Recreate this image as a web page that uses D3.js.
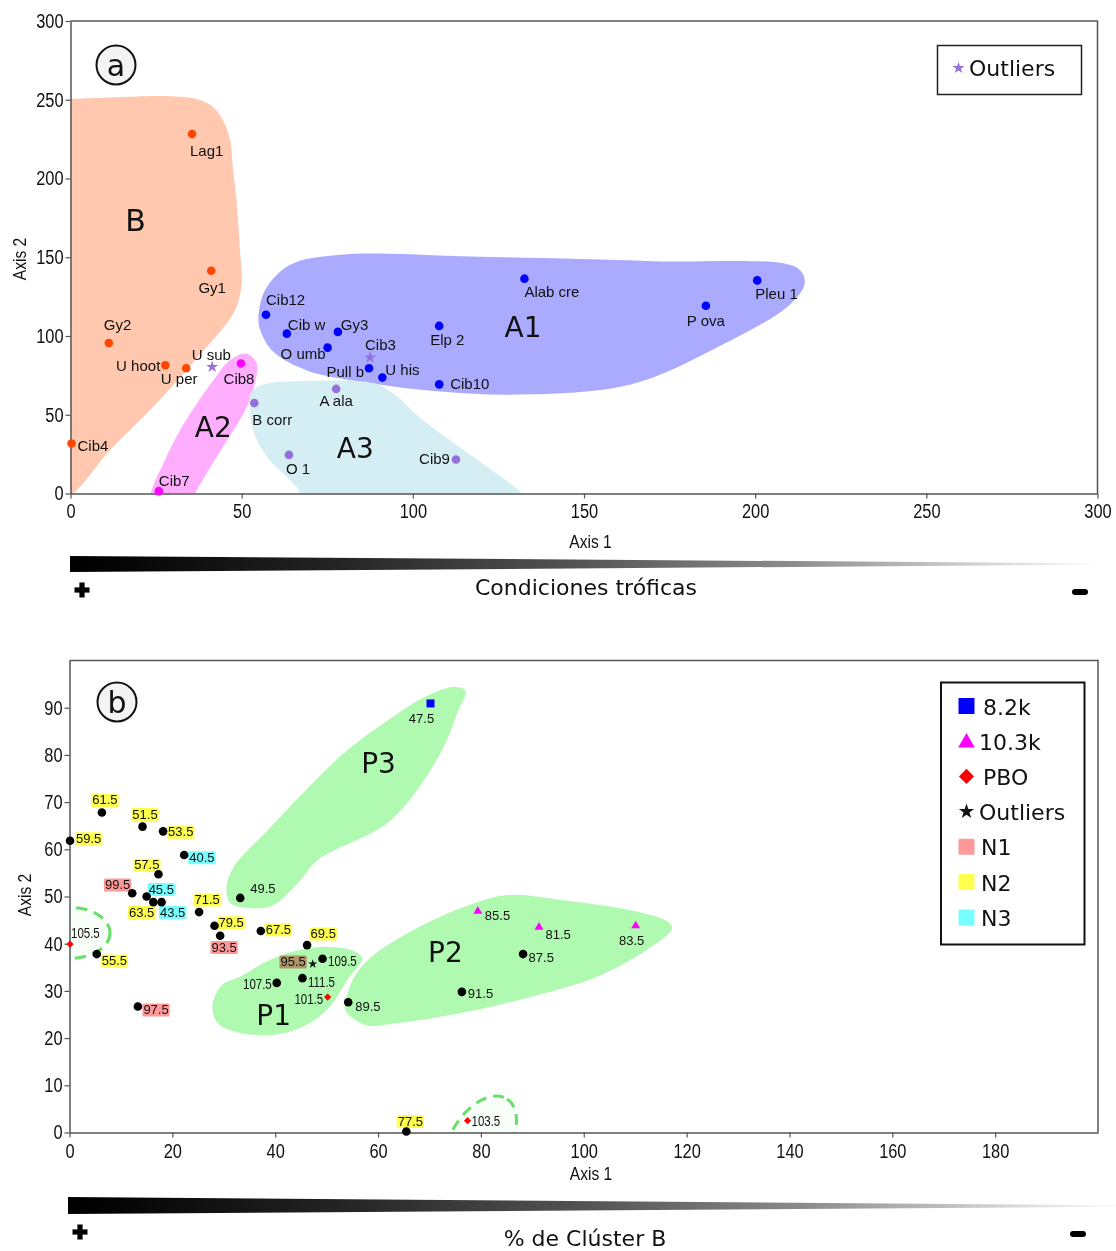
<!DOCTYPE html>
<html>
<head>
<meta charset="utf-8">
<script src="https://cdn.jsdelivr.net/npm/d3@7"></script>
<style>
  body { margin: 0; background: #fff; }
  svg { display: block; }
</style>
</head>
<body>
<svg id="chart" width="1116" height="1251"></svg>
<script>
// ---------------- Panel (a): species ordination ----------------
const speciesNames   = ['Lag1','Gy1','Gy2','U hoot','U per','U sub','Cib4','Cib8','Cib7','B corr','O 1','A ala','Cib9',
                        'Cib12','Cib w','Gy3','O umb','Cib3','Pull b','U his','Elp 2','Cib10','Alab cre','P ova','Pleu 1'];
const speciesAxis1   = [35.5,41.1,11.2,27.7,33.8,41.4,0.3,49.8,25.8,53.7,63.8,77.6,112.6,
                        57.1,63.2,78.1,75.1,87.5,87.2,91.1,107.7,107.7,132.6,185.6,200.6];
const speciesAxis2   = [228.3,141.4,95.6,81.4,79.5,80.4,31.7,82.5,1.5,57.5,24.5,66.4,21.6,
                        113.5,101.5,102.6,92.6,86.4,79.5,73.6,106.4,69.3,136.4,119.2,135.3];
const speciesCluster = ['B','B','B','B','B','outlier','B','A2','A2','A3','A3','A3','A3',
                        'A1','A1','A1','A1','outlier','A1','A1','A1','A1','A1','A1','A1'];

const clusterNames      = ['B','A1','A2','A3'];
const clusterLabelAxis1 = [19.0,132.2,41.7,83.2];
const clusterLabelAxis2 = [173.8,105.9,42.5,29.2];

// cluster envelopes, in axis units
const hullB  = [[-25,251],[-5,250.4],[10,251.3],[25.1,252.4],[33.9,251.6],[37.8,249.9],[41.6,245.6],[44.5,237.2],[46.6,224.5],
                [47.4,207.5],[48.5,186.3],[49.2,165.4],[49.5,154.6],[50.0,133.4],[48.5,118.6],[45.6,108.0],[39.8,93.1],
                [33.9,78.3],[23.2,52.9],[11.5,27.5],[1.8,2.1],[-4,-8],[-25,-10],[-25,120]];
const hullA1 = [[54.9,112.3],[56.9,129.4],[64.2,145.2],[78.8,151.6],[119.6,150.3],[170,147.5],[212.2,143.3],[214.5,133.8],
                [210.1,119.9],[187.6,91.3],[163.4,69.1],[131.3,62.8],[108.0,64.7],[88.4,69.8],[69.2,78.0],[59.2,90.1],[55.4,104.0]];
const hullA2 = [[51.5,88.8],[54.4,82.6],[53.9,70.1],[51.5,55.0],[47.6,40.2],[42.7,23.3],[36.9,2.1],[33.5,-12],[22.5,-12],
                [23.7,2.1],[27.1,19.1],[32.0,40.2],[36.9,57.2],[41.8,72.0],[46.6,84.7]];
const hullA3 = [[54.0,67.0],[58.3,70.1],[69.2,71.4],[88.4,70.1],[94.9,62.5],[102.2,47.9],[117.7,23.1],[132.3,-0.5],
                [137,-12],[67,-12],[67.1,0.2],[57.4,23.1],[53.3,40.2],[52.4,54.8],[52.4,62.5]];
const hullsA = [['B',hullB],['A1',hullA1],['A2',hullA2],['A3',hullA3]];

const ticksA1 = [0,50,100,150,200,250,300];
const ticksA2 = [0,50,100,150,200,250,300];

// ---------------- Panel (b): sample ordination ----------------
const sampleLabels = ['47.5','49.5','61.5','59.5','51.5','53.5','40.5','57.5','99.5','45.5','63.5','43.5','71.5','79.5',
                      '93.5','67.5','69.5','105.5','55.5','97.5','95.5','109.5','107.5','111.5','101.5','89.5','85.5',
                      '81.5','83.5','87.5','91.5','77.5','103.5'];
const sampleAxis1  = [70.2,33.2,6.3,0.1,14.2,18.2,22.3,17.3,12.2,15.0,16.3,17.9,25.2,28.2,
                      29.3,37.2,46.2,0.1,5.3,13.3,47.3,49.2,40.3,45.3,50.2,54.2,79.4,
                      91.3,110.1,88.2,76.3,65.5,77.4];
const sampleAxis2  = [90.9,49.7,67.8,61.8,64.8,63.8,58.8,54.7,50.7,50.0,48.8,48.8,46.7,43.8,
                      41.7,42.7,39.7,39.9,37.8,26.7,35.7,36.8,31.7,32.7,28.7,27.6,46.9,
                      43.5,43.8,37.8,29.8,0.2,2.5];
const sampleEvent  = ['8.2k','','','','','','','','','','','','','',
                      '','','','PBO','','','Outliers','','','','PBO','','10.3k',
                      '10.3k','10.3k','','','','PBO'];
const sampleLevel  = ['','','N2','N2','N2','N2','N3','N2','N1','N3','N2','N3','N2','N2',
                      'N1','N2','N2','','N2','N1','N1','','','','','','',
                      '','','','','N2',''];

const groupNames      = ['P1','P2','P3'];
const groupLabelAxis1 = [39.7,73.1,60.1];
const groupLabelAxis2 = [24.9,38.2,78.2];

const hullP1 = [[27.8,27.0],[29.7,31.3],[33.2,33.0],[38.1,36.1],[43.0,38.2],[48.8,39.3],[54.6,38.7],[56.9,37.0],
                [54.0,32.3],[50.1,26.0],[44.9,22.2],[39.7,20.7],[33.2,21.1],[28.8,23.2]];
const hullP2 = [[85.1,50.3],[96.0,49.2],[109.0,47.1],[115.8,45.0],[117.2,43.3],[112.3,38.7],[102.6,33.0],[89.6,28.7],
                [76.6,25.4],[63.8,23.2],[57.5,22.8],[53.6,26.0],[54.0,29.2],[55.6,33.4],[58.9,37.4],[66.9,42.9],[76.6,47.7]];
const hullP3 = [[74.6,94.4],[77.0,93.6],[75.6,89.4],[72.1,80.3],[62.4,66.1],[48.2,57.7],[44.9,53.5],[39.7,48.2],
                [35.2,47.5],[31.3,48.6],[30.5,51.8],[31.9,56.2],[38.5,64.0],[45.5,72.0],[53.5,80.5],[61.5,87.0],[68.8,92.1]];
const hullsB = [hullP1,hullP2,hullP3];

// dashed envelopes around isolated samples (centre in axis units)
const looseGroupAxis1 = [0.1,79.9];
const looseGroupAxis2 = [42.3,-1.6];

const ticksB1 = [0,20,40,60,80,100,120,140,160,180];
const ticksB2 = [0,10,20,30,40,50,60,70,80,90];

const legendEvents = ['8.2k','10.3k','PBO','Outliers'];
const legendLevels = ['N1','N2','N3'];

// ---------------- styles ----------------
const FONT_LABEL  = '"Liberation Sans",Arial,sans-serif';
const FONT_DV     = '"DejaVu Sans",sans-serif';

const hullFill   = {B:'#ffc8af', A1:'#aaaaff', A2:'#ffaeff', A3:'#d5eef3'};
const dotColor   = {B:'#ff4500', A1:'#0000ff', A2:'#ff00ff', A3:'#9370db', outlier:'#9370db'};
const levelColor = {N1:'#ff9999', N2:'#ffff4d', N3:'#77ffff'};
const eventColor = {'8.2k':'#0000ff','10.3k':'#ff00ff','PBO':'#ff0000','Outliers':'#111'};

const labelPosA = {
  'Lag1':[-2,22,'start'],'Gy1':[1,22,'middle'],'Gy2':[-5,-13,'start'],'U hoot':[-5,6,'end'],
  'U per':[-7,16,'middle'],'U sub':[-1,-7,'middle'],'Cib4':[6,7,'start'],'Cib8':[-2,20,'middle'],
  'Cib7':[0,-5,'start'],'B corr':[-2,22,'start'],'O 1':[-3,19,'start'],'A ala':[0,17,'middle'],
  'Cib9':[-6,5,'end'],'Cib12':[0,-10,'start'],'Cib w':[1,-4,'start'],'Gy3':[3,-2,'start'],
  'O umb':[-2,11,'end'],'Cib3':[-5,-7,'start'],'Pull b':[-5,9,'end'],'U his':[3,-3,'start'],
  'Elp 2':[-9,19,'start'],'Cib10':[11,5,'start'],'Alab cre':[0,18,'start'],'P ova':[0,20,'middle'],
  'Pleu 1':[-2,19,'start']
};
const labelPosB = {
  '47.5':[-9,20,'middle'],'49.5':[10,-5,'start'],'61.5':[3,-8,'middle'],'59.5':[6,2,'start'],
  '51.5':[2.5,-8,'middle'],'53.5':[5,5,'start'],'40.5':[5,7,'start'],'57.5':[1,-5,'end'],
  '99.5':[-2,-4,'end'],'45.5':[2,-3,'start'],'63.5':[1,14.5,'end'],'43.5':[-1.5,14.5,'start'],
  '71.5':[8,-8,'middle'],'79.5':[4,1,'start'],'93.5':[4,16,'middle'],'67.5':[5,3,'start'],
  '69.5':[3.5,-7,'start'],'105.5':[1,-6,'start'],'55.5':[5,11,'start'],'97.5':[5.5,7.5,'start'],
  '95.5':[-7,2,'end'],'109.5':[5.5,7.5,'start'],'107.5':[-5,6.5,'end'],'111.5':[5.5,8.5,'start'],
  '101.5':[-4.5,6.5,'end'],'89.5':[7,8.5,'start'],'85.5':[7,9,'start'],'81.5':[6.5,11.5,'start'],
  '83.5':[-4,19,'middle'],'87.5':[5.5,8,'start'],'91.5':[6,6.5,'start'],'77.5':[4,-6,'middle'],
  '103.5':[4,5,'start']
};

const svg = d3.select('#chart');
const defs = svg.append('defs');

// condensed sans: use the narrow face when present, otherwise squeeze the regular one
const hasNarrow = (() => {
  const probe = svg.append('text').style('font-size','40px').text('0123456789 Axis');
  probe.style('font-family','"Liberation Sans Narrow",monospace');
  const a = probe.node().getComputedTextLength();
  probe.style('font-family','monospace');
  const b = probe.node().getComputedTextLength();
  probe.remove();
  return Math.abs(a - b) > 0.5;
})();
function narrow(sel, size) {
  sel.style('font-family', hasNarrow ? '"Liberation Sans Narrow"' : '"Liberation Sans",Arial,sans-serif')
     .style('font-size', size);
  if (!hasNarrow) sel.each(function () {
    const w = this.getComputedTextLength();
    d3.select(this).attr('textLength', w * 0.82).attr('lengthAdjust', 'spacingAndGlyphs');
  });
  return sel;
}

// ---------------- helpers ----------------
function frame(g, x, y) {
  const [x0,x1] = x.range(), [y0,y1] = y.range();
  g.append('path')
    .attr('d', `M${x0},${y1}H${x1}V${y0}`)
    .attr('fill','none').attr('stroke','#555').attr('stroke-width',1.5);
}
function axes(g, x, y, tx, ty, padX) {
  const ax = g.append('g').attr('transform',`translate(0,${y.range()[0]})`)
    .call(d3.axisBottom(x).tickValues(tx).tickFormat(d3.format('d')).tickSize(5).tickSizeOuter(0).tickPadding(padX));
  const ay = g.append('g').attr('transform',`translate(${x.range()[0]},0)`)
    .call(d3.axisLeft(y).tickValues(ty).tickFormat(d3.format('d')).tickSize(5).tickSizeOuter(0).tickPadding(2));
  [ax, ay].forEach(a => {
    a.attr('font-family', null).attr('font-size', null);
    a.select('.domain').attr('stroke','#555').attr('stroke-width',1.5);
    a.selectAll('.tick line').attr('stroke','#555').attr('stroke-width',1.2);
    narrow(a.selectAll('.tick text').attr('fill','#111'), '20px');
  });
}
function circledLetter(g, cx, cy, letter) {
  g.append('circle').attr('cx',cx).attr('cy',cy).attr('r',19.5)
    .attr('fill','#f3f3f3').attr('stroke','#111').attr('stroke-width',2);
  g.append('text').attr('x',cx).attr('y',cy).attr('text-anchor','middle').attr('dy','0.36em')
    .style('font-family',FONT_DV).style('font-size','30px').attr('fill','#111').text(letter);
}
function axisTitles(g, xc, xBase, yc, yBase, lab1, lab2) {
  narrow(g.append('text').attr('x',xc).attr('y',xBase).attr('text-anchor','middle')
    .attr('fill','#111').text(lab1), '19px');
  narrow(g.append('text').attr('transform',`translate(${yBase},${yc}) rotate(-90)`).attr('text-anchor','middle')
    .attr('fill','#111').text(lab2), '19px');
}
function gradientWedge(g, id, x0, x1, yTop, yBot, yTip, caption, capX, capY, plusX, minusX, signY) {
  const grad = defs.append('linearGradient').attr('id',id).attr('x1','0').attr('x2','1').attr('y1','0').attr('y2','0');
  [[0,'#000'],[0.05,'#050505'],[0.25,'#222'],[0.5,'#555'],[0.7,'#8a8a8a'],[0.85,'#c4c4c4'],[1,'#fbfbfb']]
    .forEach(([o,c]) => grad.append('stop').attr('offset',o).attr('stop-color',c));
  g.append('path')
    .attr('d',`M${x0},${yTop}L${x1},${yTip-0.8}L${x1},${yTip+0.8}L${x0},${yBot}Z`)
    .attr('fill',`url(#${id})`);
  g.append('text').attr('x',capX).attr('y',capY).attr('text-anchor','middle')
    .style('font-family',FONT_DV).style('font-size','22px').attr('fill','#111').text(caption);
  // plus sign
  g.append('rect').attr('x',plusX-7.5).attr('y',signY-2.6).attr('width',15).attr('height',5.2).attr('fill','#000');
  g.append('rect').attr('x',plusX-2.6).attr('y',signY-7.5).attr('width',5.2).attr('height',15).attr('fill','#000');
  // minus sign
  g.append('rect').attr('x',minusX-8).attr('y',signY-1).attr('width',16).attr('height',6).attr('rx',3).attr('fill','#000');
}

const hullCurve = d3.curveCatmullRomClosed.alpha(0.5);

// =================== PANEL A ===================
const xA = d3.scaleLinear().domain([0,300]).range([70.5,1097.5]);
const yA = d3.scaleLinear().domain([0,300]).range([493.5,21]);
const gA = svg.append('g');

defs.append('clipPath').attr('id','clipA').append('rect')
  .attr('x',xA(0)).attr('y',yA(300)).attr('width',xA(300)-xA(0)).attr('height',yA(0)-yA(300));

const lineA = d3.line().x(d => xA(d[0])).y(d => yA(d[1])).curve(hullCurve);
gA.append('g').attr('clip-path','url(#clipA)')
  .selectAll('path').data(hullsA).join('path')
  .attr('d', d => lineA(d[1])).attr('fill', d => hullFill[d[0]]);

frame(gA, xA, yA);
axes(gA, xA, yA, ticksA1, ticksA2, 5);

// cluster names
gA.selectAll('text.cl').data(clusterNames).join('text').attr('class','cl')
  .attr('x',(d,i) => xA(clusterLabelAxis1[i])).attr('y',(d,i) => yA(clusterLabelAxis2[i]))
  .attr('text-anchor','middle').attr('dy','0.36em')
  .style('font-family',FONT_DV).style('font-size', d => d === 'B' ? '30px' : '28px').attr('fill','#111').text(d => d);

// species markers
const species = speciesNames.map((n,i) => ({name:n, x:speciesAxis1[i], y:speciesAxis2[i], c:speciesCluster[i]}));
gA.selectAll('circle.sp').data(species.filter(d => d.c !== 'outlier')).join('circle').attr('class','sp')
  .attr('cx', d => xA(d.x)).attr('cy', d => yA(d.y)).attr('r',4.3).attr('fill', d => dotColor[d.c]);
gA.selectAll('path.sp').data(species.filter(d => d.c === 'outlier')).join('path').attr('class','sp')
  .attr('transform', d => `translate(${xA(d.x)},${yA(d.y)})`)
  .attr('d', d3.symbol(d3.symbolStar, 45)).attr('fill', dotColor.outlier);
gA.selectAll('text.sp').data(species).join('text').attr('class','sp')
  .attr('x', d => xA(d.x) + labelPosA[d.name][0]).attr('y', d => yA(d.y) + labelPosA[d.name][1])
  .attr('text-anchor', d => labelPosA[d.name][2])
  .style('font-family',FONT_LABEL).style('font-size','15px').attr('fill','#111').text(d => d.name);

axisTitles(gA, 590.5, 548, 259, 26, 'Axis 1', 'Axis 2');
circledLetter(gA, 116, 65, 'a');

// legend (a)
const legA = gA.append('g');
legA.append('rect').attr('x',937.5).attr('y',45.5).attr('width',144).attr('height',49)
  .attr('fill','#fff').attr('stroke','#222').attr('stroke-width',1.5);
legA.append('path').attr('transform','translate(958.5,68)').attr('d', d3.symbol(d3.symbolStar, 45)).attr('fill', dotColor.outlier);
legA.append('text').attr('x',969).attr('y',76).style('font-family',FONT_DV).style('font-size','22px')
  .attr('fill','#111').text('Outliers');

gradientWedge(gA, 'wedgeA', 70, 1094, 556, 572, 564, 'Condiciones tróficas', 586, 595, 82, 1080, 590);

// =================== PANEL B ===================
const xB = d3.scaleLinear().domain([0,200]).range([69.5,1098]);
const yB = d3.scaleLinear().domain([0,100]).range([1132.5,660.5]);
const gB = svg.append('g');

defs.append('clipPath').attr('id','clipB').append('rect')
  .attr('x',xB(0)).attr('y',yB(100)).attr('width',xB(200)-xB(0)).attr('height',yB(0)-yB(100));

const lineB = d3.line().x(d => xB(d[0])).y(d => yB(d[1])).curve(hullCurve);
const clipG = gB.append('g').attr('clip-path','url(#clipB)');
clipG.selectAll('path.hull').data(hullsB).join('path').attr('class','hull')
  .attr('d', lineB).attr('fill','#b0f9b0');

// dashed envelopes (radii and tilt in px)
const looseShape = [[40,25.5,0],[49,29,-57]];
clipG.selectAll('ellipse').data(looseGroupAxis1).join('ellipse')
  .attr('transform',(d,i) => `translate(${xB(d)},${yB(looseGroupAxis2[i])}) rotate(${looseShape[i][2]})`)
  .attr('rx',(d,i) => looseShape[i][0]).attr('ry',(d,i) => looseShape[i][1])
  .attr('fill','rgba(200,250,200,0.12)').attr('stroke','#66e066').attr('stroke-width',3)
  .attr('stroke-dasharray','11,7');

frame(gB, xB, yB);
axes(gB, xB, yB, ticksB1, ticksB2, 6);

gB.selectAll('text.grp').data(groupNames).join('text').attr('class','grp')
  .attr('x',(d,i) => xB(groupLabelAxis1[i])).attr('y',(d,i) => yB(groupLabelAxis2[i]))
  .attr('text-anchor','middle').attr('dy','0.36em')
  .style('font-family',FONT_DV).style('font-size','28px').attr('fill','#111').text(d => d);

const samples = sampleLabels.map((s,i) => ({lab:s, x:sampleAxis1[i], y:sampleAxis2[i], ev:sampleEvent[i], lv:sampleLevel[i]}));

// sample labels with level highlight
const labG = gB.append('g');
samples.forEach(d => {
  const [dx,dy,anchor] = labelPosB[d.lab];
  const tx = xB(d.x) + dx, ty = yB(d.y) + dy;
  const t = labG.append('text').attr('x',tx).attr('y',ty).attr('text-anchor',anchor)
    .attr('fill','#111').text(d.lab);
  if (d.lab.length > 4) narrow(t, '14px');
  else t.style('font-family', FONT_LABEL).style('font-size','13px');
  if (d.lv) {
    const bb = t.node().getBBox();
    labG.insert('rect','text').attr('x',bb.x-1).attr('y',ty-10.6).attr('width',bb.width+2).attr('height',13)
      .attr('rx',1.5).attr('fill',levelColor[d.lv]).style('mix-blend-mode','multiply');
  }
});

// sample markers
const symFor = {'8.2k':d3.symbol(d3.symbolSquare,64), '10.3k':d3.symbol(d3.symbolTriangle,34),
                'PBO':d3.symbol(d3.symbolSquare,26), 'Outliers':d3.symbol(d3.symbolStar,26)};
gB.selectAll('circle.smp').data(samples.filter(d => !d.ev)).join('circle').attr('class','smp')
  .attr('cx', d => xB(d.x)).attr('cy', d => yB(d.y)).attr('r',4.3).attr('fill','#000');
gB.selectAll('path.smp').data(samples.filter(d => d.ev)).join('path').attr('class','smp')
  .attr('transform', d => `translate(${xB(d.x)},${yB(d.y)})` + (d.ev === 'PBO' ? ' rotate(45)' : ''))
  .attr('d', d => symFor[d.ev]()).attr('fill', d => eventColor[d.ev]);

axisTitles(gB, 591, 1180, 895, 31, 'Axis 1', 'Axis 2');
circledLetter(gB, 117, 702, 'b');

// legend (b)
const legB = gB.append('g');
legB.append('rect').attr('x',941).attr('y',682.5).attr('width',143.5).attr('height',262)
  .attr('fill','#fff').attr('stroke','#111').attr('stroke-width',2);
const legSym = {'8.2k':d3.symbol(d3.symbolSquare,256), '10.3k':d3.symbol(d3.symbolTriangle,120),
                'PBO':d3.symbol(d3.symbolSquare,115), 'Outliers':d3.symbol(d3.symbolStar,72)};
const legTextX = {'8.2k':983,'10.3k':979,'PBO':983,'Outliers':979};
legendEvents.forEach((e,i) => {
  const cy = 706 + i*35.2;
  legB.append('path').attr('transform',`translate(966.5,${cy + (e === '10.3k' ? 1.5 : 0)})` + (e === 'PBO' ? ' rotate(45)' : ''))
    .attr('d', legSym[e]()).attr('fill', eventColor[e]);
  legB.append('text').attr('x',legTextX[e]).attr('y',cy+8.5).style('font-family',FONT_DV).style('font-size','22px')
    .attr('fill','#111').text(e);
});
legendLevels.forEach((l,i) => {
  const cy = 846.8 + i*35.3;
  legB.append('rect').attr('x',958.5).attr('y',cy-8).attr('width',16).attr('height',16).attr('rx',1.5)
    .attr('fill', levelColor[l]);
  legB.append('text').attr('x',981).attr('y',cy+8.5).style('font-family',FONT_DV).style('font-size','22px')
    .attr('fill','#111').text(l);
});

gradientWedge(gB, 'wedgeB', 68, 1116, 1197, 1214, 1206, '% de Clúster B', 585, 1246, 80, 1078, 1232);
</script>
</body>
</html>
